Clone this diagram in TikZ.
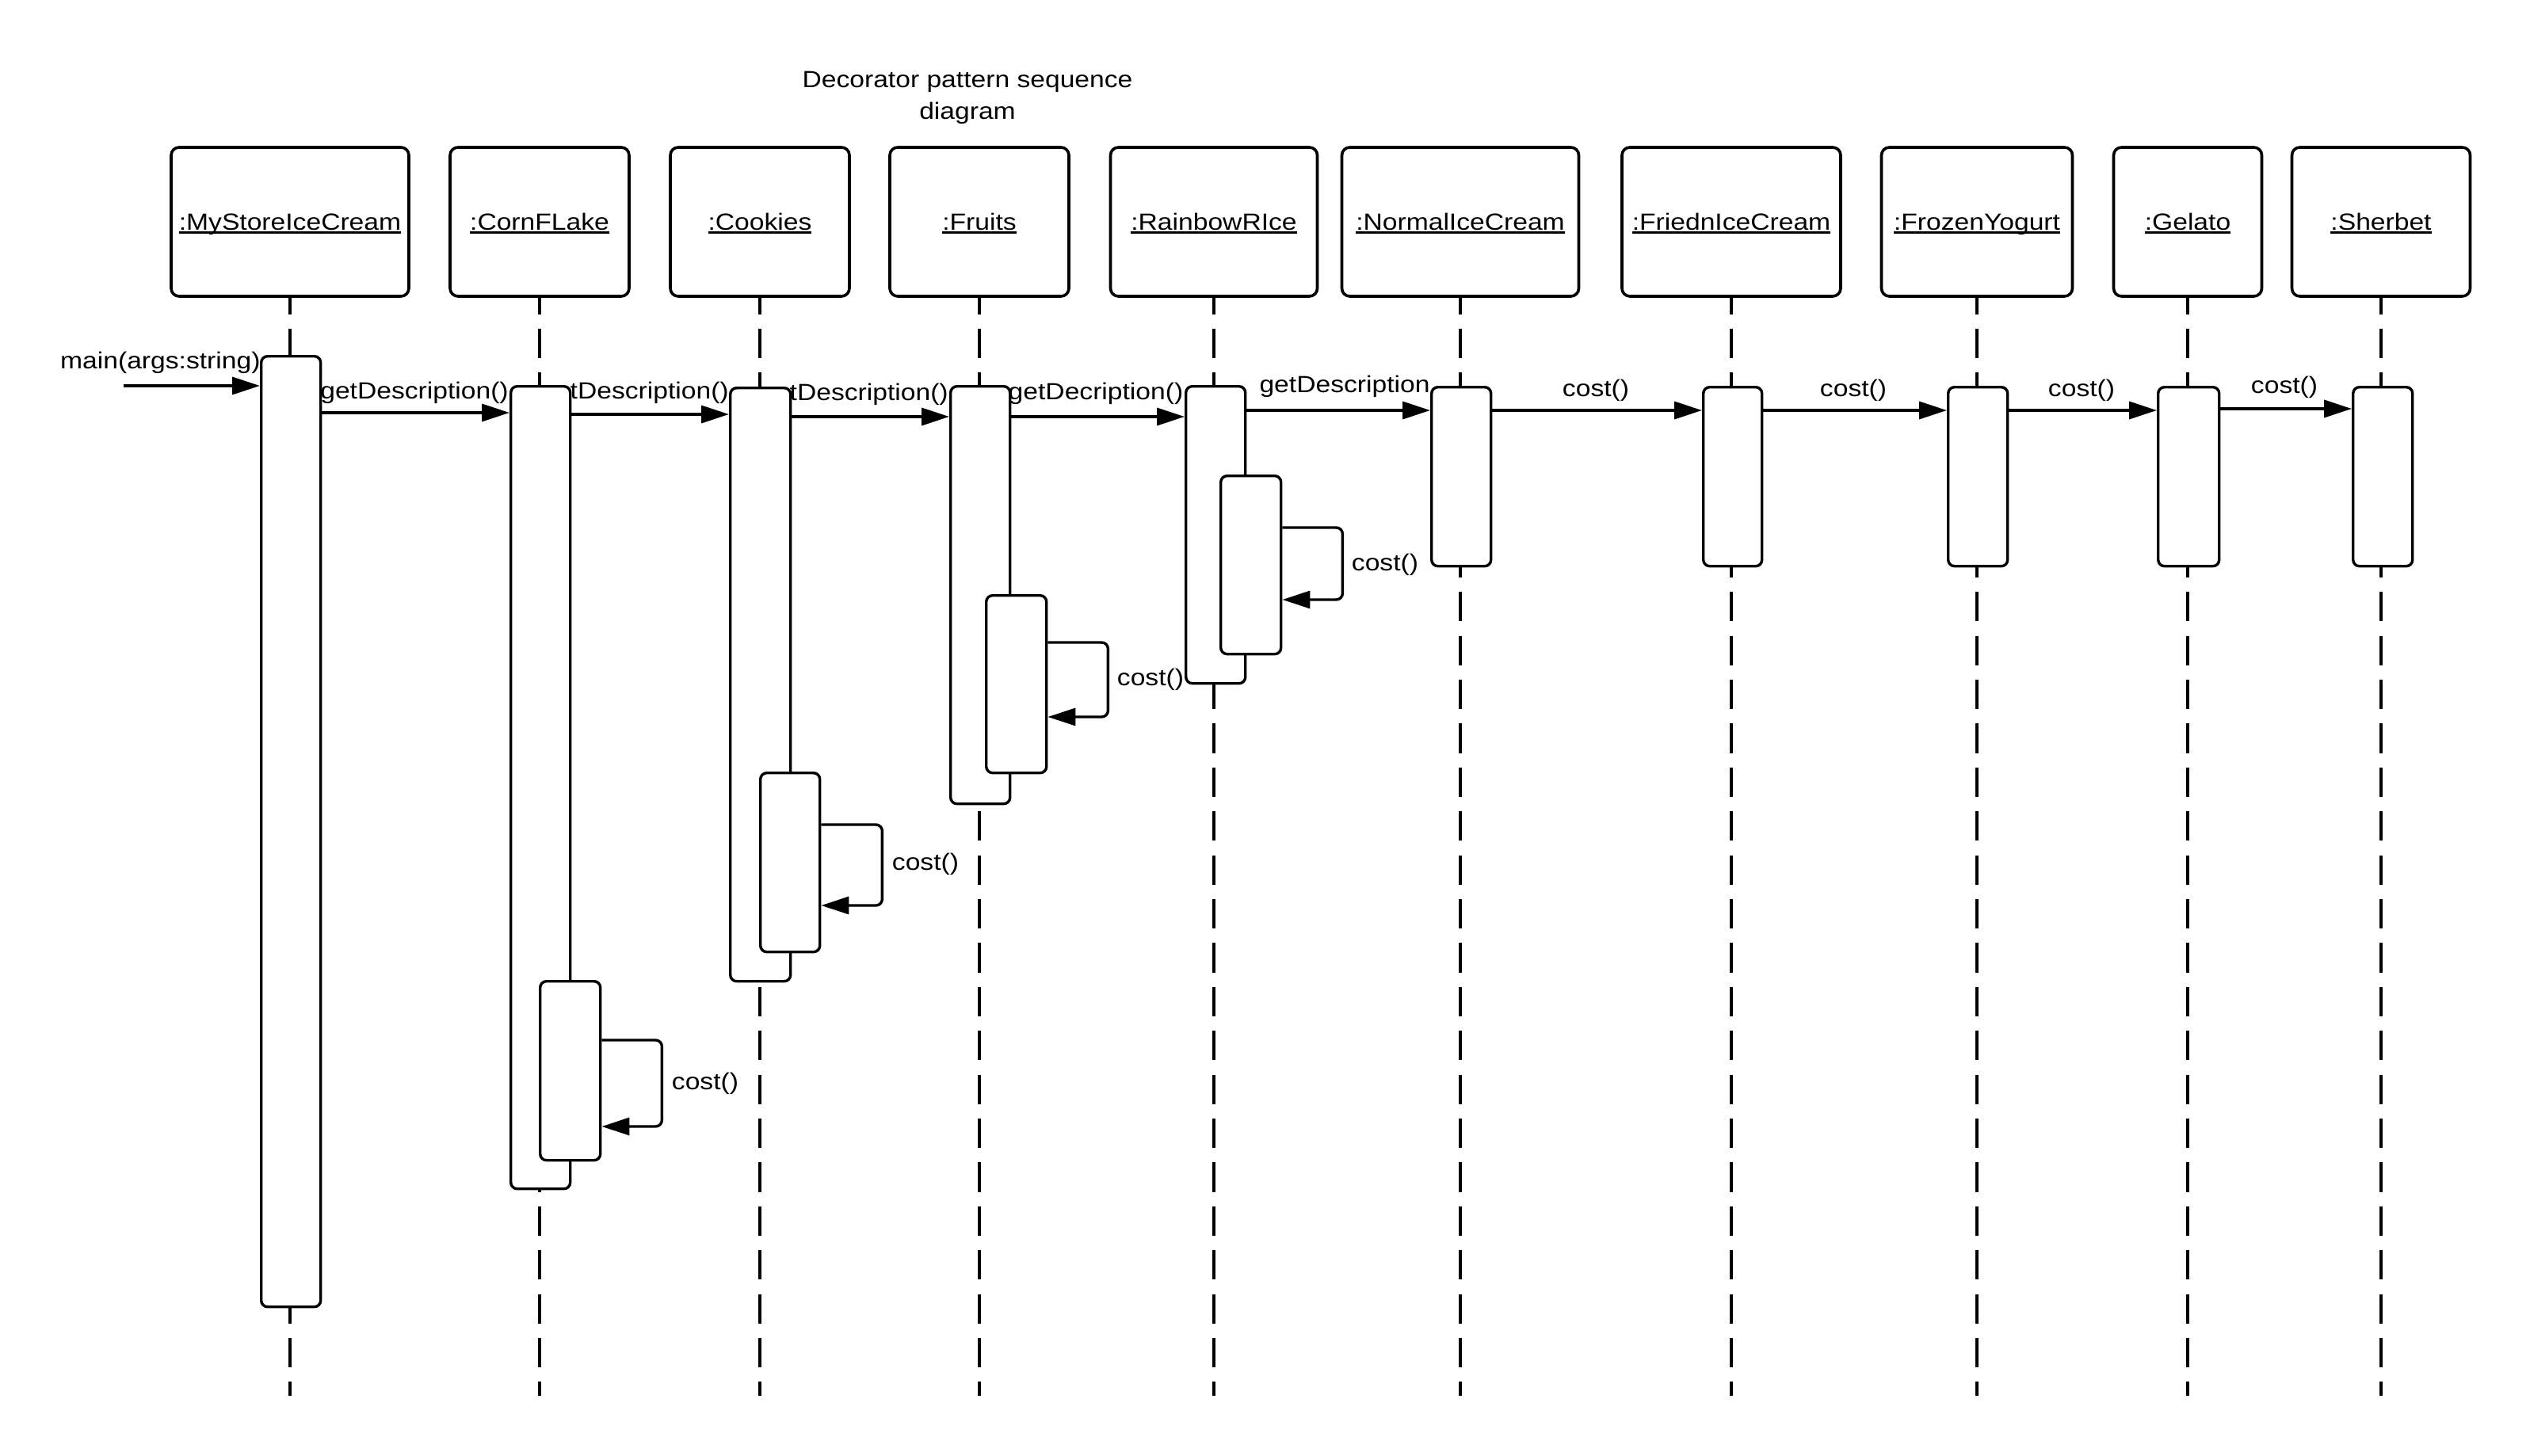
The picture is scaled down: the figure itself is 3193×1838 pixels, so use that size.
\documentclass[tikz,border=0pt]{standalone}
\usepackage{fontspec}
\setmainfont{Liberation Sans}[FakeStretch=1.14]
\usetikzlibrary{arrows.meta}
% underlined object name, rule sitting just under the baseline
\newcommand\uln[1]{\setbox0\hbox{#1}\rlap{\rule[-5pt]{\wd0}{2.7pt}}\box0}
\begin{document}
\begin{tikzpicture}[x=1pt,y=-1pt,
  every node/.style={font=\fontsize{29.5pt}{40pt}\selectfont},
  head/.style={draw, line width=3.6pt, rounded corners=10pt, fill=white,
    minimum height=188pt, inner sep=0pt, text height=24pt, text depth=4pt},
  life/.style={line width=3.4pt, dash pattern=on 37.2pt off 18.2pt, dash phase=16.4pt},
  act/.style={draw, line width=3.4pt, rounded corners=8pt, fill=white,
    inner sep=0pt, anchor=north west},
  msg/.style={line width=3.4pt, -{Triangle[length=35pt,width=22pt]}},
  selfmsg/.style={msg, rounded corners=8pt},
  lbl/.style={anchor=base, inner sep=0pt}]

\fill[white] (0,0) rectangle (3193,1838);
\useasboundingbox (0,0) rectangle (3193,1838);

% title
\node[inner sep=0pt, align=center] (title) at (1221,123.5) {Decorator pattern sequence\\diagram};

% object heads
\node[head, minimum width=300pt] (h1)  at (366,280)  {\uln{:MyStoreIceCream}};
\node[head, minimum width=226pt] (h2)  at (681,280)  {\uln{:CornFLake}};
\node[head, minimum width=226pt] (h3)  at (959,280)  {\uln{:Cookies}};
\node[head, minimum width=226pt] (h4)  at (1236,280) {\uln{:Fruits}};
\node[head, minimum width=261pt] (h5)  at (1532,280) {\uln{:RainbowRIce}};
\node[head, minimum width=299pt] (h6)  at (1843,280) {\uln{:NormalIceCream}};
\node[head, minimum width=276pt] (h7)  at (2185,280) {\uln{:FriednIceCream}};
\node[head, minimum width=241pt] (h8)  at (2495,280) {\uln{:FrozenYogurt}};
\node[head, minimum width=187pt] (h9)  at (2761,280) {\uln{:Gelato}};
\node[head, minimum width=225pt] (h10) at (3005,280) {\uln{:Sherbet}};

% lifelines
\foreach \h in {h1,h2,h3,h4,h5,h6,h7,h8,h9,h10}
  \draw[life] (\h.south) -- (\h.south |- 0,1762);

% message labels (drawn before the activations, which cover them)
\node[lbl, anchor=base west] (lmain) at (76,465) {main(args:string)};
\node[lbl] (l12) at (523,503)  {getDescription()};
\node[lbl] (l23) at (801,503)  {getDescription()};
\node[lbl] (l34) at (1078,505) {getDescription()};
\node[lbl] (l45) at (1383,504) {getDecription()};
\node[lbl] (l56) at (1697,495) {getDescription};
\node[lbl] (l67) at (2014,500) {cost()};
\node[lbl] (l78) at (2339,500) {cost()};
\node[lbl] (l89) at (2627,500) {cost()};
\node[lbl] (l910) at (2883,496) {cost()};
\node[lbl] (c5) at (1748,720)  {cost()};
\node[lbl] (c4) at (1452,865)  {cost()};
\node[lbl] (c3) at (1168,1098) {cost()};
\node[lbl] (c2) at (890,1375)  {cost()};

% activations
\node[act, minimum width=75pt, minimum height=1200pt] (a1)  at (328,448)  {};
\node[act, minimum width=75pt, minimum height=1013pt] (a2)  at (643,486)  {};
\node[act, minimum width=76pt, minimum height=226pt]  (a2n) at (680,1237) {};
\node[act, minimum width=76pt, minimum height=749pt]  (a3)  at (920,488)  {};
\node[act, minimum width=75pt, minimum height=226pt]  (a3n) at (958,974)  {};
\node[act, minimum width=75pt, minimum height=527pt]  (a4)  at (1198,486) {};
\node[act, minimum width=76pt, minimum height=224pt]  (a4n) at (1243,750) {};
\node[act, minimum width=75pt, minimum height=375pt]  (a5)  at (1495,486) {};
\node[act, minimum width=76pt, minimum height=225pt]  (a5n) at (1539,599) {};
\node[act, minimum width=75pt, minimum height=226pt]  (a6)  at (1805,487) {};
\node[act, minimum width=74pt, minimum height=226pt]  (a7)  at (2148,487) {};
\node[act, minimum width=75pt, minimum height=226pt]  (a8)  at (2457,487) {};
\node[act, minimum width=77pt, minimum height=226pt]  (a9)  at (2722,487) {};
\node[act, minimum width=75pt, minimum height=226pt]  (a10) at (2968,487) {};

% messages
\coordinate (start) at (156,487);
\draw[msg] (start) -- (a1.west |- 0,487);
\draw[msg] (a1.east |- 0,521) -- (a2.west |- 0,521);
\draw[msg] (a2.east |- 0,523) -- (a3.west |- 0,523);
\draw[msg] (a3.east |- 0,526) -- (a4.west |- 0,526);
\draw[msg] (a4.east |- 0,526) -- (a5.west |- 0,526);
\draw[msg] (a5.east |- 0,518) -- (a6.west |- 0,518);
\draw[msg] (a6.east |- 0,518) -- (a7.west |- 0,518);
\draw[msg] (a7.east |- 0,518) -- (a8.west |- 0,518);
\draw[msg] (a8.east |- 0,518) -- (a9.west |- 0,518);
\draw[msg] (a9.east |- 0,516) -- (a10.west |- 0,516);

% self calls
\draw[selfmsg] (a5n.east |- 0,666)  -- ++(76,0) |- (a5n.east |- 0,757);
\draw[selfmsg] (a4n.east |- 0,811)  -- ++(76,0) |- (a4n.east |- 0,905);
\draw[selfmsg] (a3n.east |- 0,1041) -- ++(77,0) |- (a3n.east |- 0,1143);
\draw[selfmsg] (a2n.east |- 0,1313) -- ++(76,0) |- (a2n.east |- 0,1422);

\end{tikzpicture}
\end{document}
